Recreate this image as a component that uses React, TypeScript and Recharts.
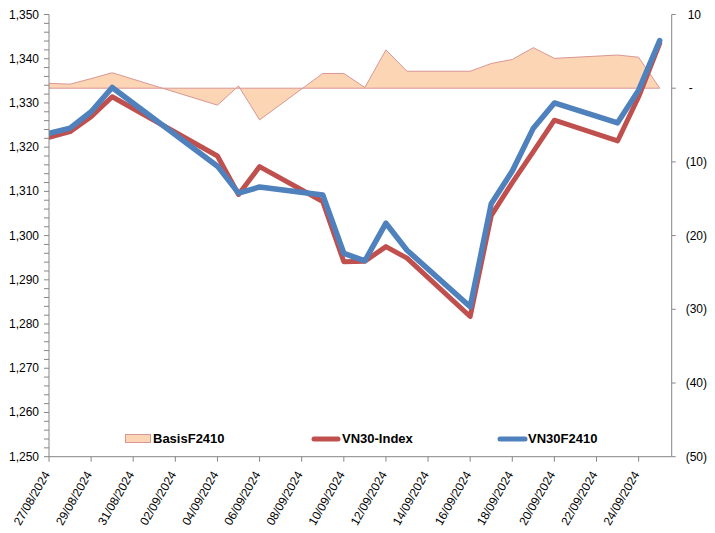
import React from 'react';
import { ComposedChart, Line, Area, XAxis, YAxis, ReferenceLine, Legend } from 'recharts';

// ---- data ----
const dates = [
  '27/08/2024', '28/08/2024', '29/08/2024', '30/08/2024', '04/09/2024', '05/09/2024',
  '06/09/2024', '09/09/2024', '10/09/2024', '11/09/2024', '12/09/2024', '13/09/2024',
  '16/09/2024', '17/09/2024', '18/09/2024', '19/09/2024', '20/09/2024', '23/09/2024',
  '24/09/2024', '25/09/2024',
];
const vn30Index = [
  1322.2, 1323.5, 1326.9, 1331.4, 1318.0, 1309.3, 1315.6, 1307.7, 1294.1, 1294.2,
  1297.5, 1294.9, 1281.7, 1304.5, 1312.0, 1319.0, 1326.1, 1321.4, 1331.4, 1343.5,
];
const vn30F2410 = [
  1323.1, 1324.3, 1328.0, 1333.5, 1315.7, 1309.6, 1311.0, 1309.2, 1296.0, 1294.3,
  1302.8, 1296.7, 1283.9, 1307.2, 1314.6, 1324.3, 1330.0, 1325.5, 1332.9, 1344.1,
];
const basisF2410 = [
  0.66, 0.55, 1.3, 2.1, -2.3, 0.3, -4.3, 2.0, 2.0, 0.1,
  5.2, 2.3, 2.3, 3.35, 3.9, 5.5, 4.05, 4.5, 4.2, 0.0,
];
const xTickDates = [
  '27/08/2024', '29/08/2024', '31/08/2024', '02/09/2024', '04/09/2024', '06/09/2024',
  '08/09/2024', '10/09/2024', '12/09/2024', '14/09/2024', '16/09/2024', '18/09/2024',
  '20/09/2024', '22/09/2024', '24/09/2024',
];
const leftMajorTicks = [1250, 1260, 1270, 1280, 1290, 1300, 1310, 1320, 1330, 1340, 1350];
const rightTicks = [10, 0, -10, -20, -30, -40, -50];
const seriesNames = ['BasisF2410', 'VN30-Index', 'VN30F2410'];

// ---- helpers ----
const toUTC = (s: string) => {
  const [d, m, y] = s.split('/').map(Number);
  return Date.UTC(y, m - 1, d);
};
const t0 = toUTC(dates[0]);
const dayOf = (s: string) => (toUTC(s) - t0) / 86400000;
const fmtDay = (n: number) => {
  const dt = new Date(t0 + Math.round(n) * 86400000);
  const dd = String(dt.getUTCDate()).padStart(2, '0');
  const mm = String(dt.getUTCMonth() + 1).padStart(2, '0');
  return `${dd}/${mm}/${dt.getUTCFullYear()}`;
};

const data = dates.map((d, i) => ({
  day: dayOf(d),
  vn30: vn30Index[i],
  f2410: vn30F2410[i],
  basis: basisF2410[i],
}));

const xTicks = xTickDates.map(dayOf);
const leftTicks: number[] = [];
for (let v = leftMajorTicks[0]; v <= leftMajorTicks[leftMajorTicks.length - 1]; v += 2) leftTicks.push(v);

const FONT = '"Liberation Sans", Arial, sans-serif';
const AXIS = '#868686';
const RED = '#C0504D';
const BLUE = '#4F81BD';
const FILL = '#FCD5B5';
const EDGE = '#D99694';

const DateTick = (props: any) => {
  const { x, y, payload } = props;
  const ax = x + 1.3;
  const ay = y + 10.6;
  return (
    <text
      x={ax}
      y={ay}
      transform={`rotate(-60, ${ax}, ${ay})`}
      textAnchor="end"
      fontSize={12}
      fontFamily={FONT}
      fill="#000"
    >
      {fmtDay(payload.value)}
    </text>
  );
};

const RightTick = (props: any) => {
  const { x, y, payload } = props;
  const v = payload.value;
  const label = v > 0 ? String(v) : v === 0 ? '-' : `(${-v})`;
  const dx = v > 0 ? 2 : v === 0 ? 3 : 0;
  return (
    <text x={x + dx} y={y + 4} textAnchor="start" fontSize={12} fontFamily={FONT} fill="#000">
      {label}
    </text>
  );
};

const LeftTick = (props: any) => {
  const { x, y, payload } = props;
  const v = payload.value;
  if (v % 10 !== 0) return <g />;
  return (
    <text x={x} y={y + 4} textAnchor="end" fontSize={12} fontFamily={FONT} fill="#000">
      {v.toLocaleString('en-US')}
    </text>
  );
};

const LegendContent = () => (
  <svg width={715} height={20} style={{ display: 'block' }}>
    <rect x={125.5} y={5.5} width={25} height={8} fill={FILL} stroke={EDGE} strokeWidth={1} />
    <text x={153} y={14} fontSize={13} fontWeight="bold" fontFamily={FONT} fill="#000">
      {seriesNames[0]}
    </text>
    <line x1={314} y1={10} x2={338} y2={10} stroke={RED} strokeWidth={5} strokeLinecap="round" />
    <text x={342} y={14} fontSize={13} fontWeight="bold" fontFamily={FONT} fill="#000">
      {seriesNames[1]}
    </text>
    <line x1={500} y1={10} x2={525} y2={10} stroke={BLUE} strokeWidth={5} strokeLinecap="round" />
    <text x={528} y={14} fontSize={13} fontWeight="bold" fontFamily={FONT} fill="#000">
      {seriesNames[2]}
    </text>
  </svg>
);

export default function App() {
  return (
    <div style={{ position: 'absolute', left: 0, top: 0, width: 715, height: 533, background: '#fff' }}>
      <ComposedChart
        width={715}
        height={533}
        data={data}
        margin={{ top: 14.5, right: 0, bottom: 0, left: 0 }}
      >
        <XAxis
          dataKey="day"
          type="number"
          domain={[0, 29.57]}
          ticks={xTicks}
          interval={0}
          height={76.3}
          axisLine={{ stroke: AXIS }}
          tickLine={{ stroke: AXIS }}
          tickSize={5}
          tickMargin={2}
          tick={<DateTick />}
          allowDataOverflow
        />
        <YAxis
          yAxisId="left"
          orientation="left"
          domain={[1250, 1350]}
          ticks={leftTicks}
          interval={0}
          width={49}
          axisLine={{ stroke: AXIS }}
          tickLine={{ stroke: AXIS }}
          tickSize={5}
          tickMargin={5}
          tick={<LeftTick />}
          allowDataOverflow
        />
        <YAxis
          yAxisId="right"
          orientation="right"
          domain={[-50, 10]}
          ticks={rightTicks}
          interval={0}
          width={43.3}
          axisLine={{ stroke: AXIS }}
          tickLine={{ stroke: AXIS }}
          tickSize={4}
          tickMargin={10}
          tick={<RightTick />}
          allowDataOverflow
        />
        <Legend
          layout="horizontal"
          verticalAlign="middle"
          align="center"
          content={<LegendContent />}
          wrapperStyle={{ position: 'absolute', top: 429, left: 0, width: 715, height: 20 }}
        />
        <Area
          yAxisId="right"
          dataKey="basis"
          name={seriesNames[0]}
          type="linear"
          baseValue={0}
          fill={FILL}
          fillOpacity={1}
          stroke={EDGE}
          strokeWidth={1}
          dot={false}
          activeDot={false}
          isAnimationActive={false}
        />
        <ReferenceLine
          yAxisId="right"
          segment={[{ x: 0, y: 0 }, { x: data[data.length - 1].day, y: 0 }]}
          stroke={EDGE}
          strokeWidth={1}
        />
        <Line
          yAxisId="left"
          dataKey="vn30"
          name={seriesNames[1]}
          type="linear"
          stroke={RED}
          strokeWidth={5}
          strokeLinejoin="round"
          strokeLinecap="round"
          dot={false}
          activeDot={false}
          isAnimationActive={false}
        />
        <Line
          yAxisId="left"
          dataKey="f2410"
          name={seriesNames[2]}
          type="linear"
          stroke={BLUE}
          strokeWidth={5.5}
          strokeLinejoin="round"
          strokeLinecap="round"
          dot={false}
          activeDot={false}
          isAnimationActive={false}
        />
      </ComposedChart>
    </div>
  );
}
